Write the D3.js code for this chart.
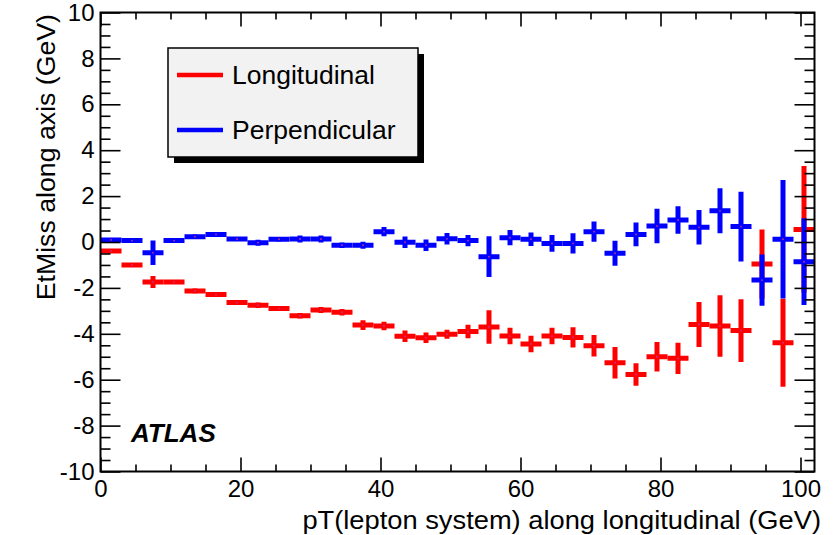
<!DOCTYPE html>
<html>
<head>
<meta charset="utf-8">
<script src="https://cdn.jsdelivr.net/npm/d3@7"></script>
<style>
  html, body { margin: 0; padding: 0; background: #fff; }
  svg { display: block; }
  text { font-family: "Liberation Sans", Arial, Helvetica, sans-serif; }
</style>
</head>
<body>
<svg id="chart" width="836" height="535"></svg>
<script>
// ---- data ----
const binCenters = [1.5, 4.5, 7.5, 10.5, 13.5, 16.5, 19.5, 22.5, 25.5, 28.5, 31.5, 34.5,
  37.5, 40.5, 43.5, 46.5, 49.5, 52.5, 55.5, 58.5, 61.5, 64.5, 67.5, 70.5, 73.5, 76.5,
  79.5, 82.5, 85.5, 88.5, 91.5, 94.5, 97.5, 100.5];
const binHalfWidth = 1.5;

const longitudinal = [-0.39, -1.0, -1.74, -1.74, -2.13, -2.29, -2.64, -2.76, -2.9, -3.21,
  -2.96, -3.06, -3.62, -3.66, -4.11, -4.17, -4.02, -3.9, -3.70, -4.10, -4.44, -4.10, -4.16,
  -4.52, -5.26, -5.77, -5.0, -5.07, -3.59, -3.66, -3.86, -0.96, -4.39, 0.55];
const longitudinalErr = [0.03, 0.03, 0.26, 0.05, 0.1, 0.05, 0.06, 0.12, 0.1, 0.12,
  0.13, 0.14, 0.21, 0.18, 0.25, 0.23, 0.2, 0.29, 0.73, 0.36, 0.36, 0.36, 0.44,
  0.47, 0.69, 0.49, 0.64, 0.68, 0.98, 1.34, 1.37, 1.51, 1.92, 2.76];

const perpendicular = [0.09, 0.06, -0.47, 0.06, 0.23, 0.33, 0.13, -0.03, 0.12, 0.13,
  0.13, -0.14, -0.14, 0.45, -0.01, -0.14, 0.14, 0.06, -0.64, 0.19, 0.12, -0.06, -0.06,
  0.45, -0.49, 0.33, 0.70, 0.96, 0.64, 1.36, 0.67, -1.66, 0.12, -0.86];
const perpendicularErr = [0.03, 0.03, 0.53, 0.05, 0.1, 0.05, 0.05, 0.13, 0.1, 0.15,
  0.15, 0.12, 0.15, 0.2, 0.25, 0.25, 0.25, 0.25, 0.89, 0.33, 0.29, 0.36, 0.44,
  0.44, 0.54, 0.52, 0.75, 0.6, 0.75, 0.98, 1.52, 1.12, 2.58, 1.89];

const xMajorTicks = [0, 20, 40, 60, 80, 100];
const yMajorTicks = [-10, -8, -6, -4, -2, 0, 2, 4, 6, 8, 10];

const seriesNames = ["Longitudinal", "Perpendicular"];
const seriesColors = ["#ff0000", "#0000ff"];

// ---- scales ----
const svg = d3.select("#chart");
const x = d3.scaleLinear().domain([0, 102]).range([100.5, 814.5]);
const y = d3.scaleLinear().domain([-10, 10]).range([471.5, 12.5]);

const xMinorTicks = d3.range(0, 102, 5).filter(v => v % 20 !== 0);
const yMinorTicks = d3.range(-10, 10.01, 0.5).filter(v => Math.abs(v % 2) > 1e-9);
const plainFormat = d => String(d);

// ---- data marks ----
svg.append("defs").append("clipPath").attr("id", "clip")
  .append("rect").attr("x", x(0)).attr("y", y(10))
  .attr("width", x(102) - x(0)).attr("height", y(-10) - y(10));

const plot = svg.append("g").attr("clip-path", "url(#clip)");
const series = [
  { vals: longitudinal, errs: longitudinalErr, color: seriesColors[0] },
  { vals: perpendicular, errs: perpendicularErr, color: seriesColors[1] }
];
series.forEach(s => {
  const g = plot.append("g").attr("stroke", s.color).attr("stroke-width", 5).attr("fill", "none");
  binCenters.forEach((c, i) => {
    g.append("line")
      .attr("x1", x(c - binHalfWidth)).attr("x2", x(c + binHalfWidth))
      .attr("y1", y(s.vals[i])).attr("y2", y(s.vals[i]));
    g.append("line")
      .attr("x1", x(c)).attr("x2", x(c))
      .attr("y1", y(s.vals[i] - s.errs[i])).attr("y2", y(s.vals[i] + s.errs[i]));
  });
  binCenters.forEach((c, i) => {
    plot.append("circle").attr("cx", x(c)).attr("cy", y(s.vals[i])).attr("r", 0.9)
      .attr("fill", "#c0309a");
  });
});

// ---- axes ----
function styleAxis(g) {
  g.select(".domain").remove();
  g.selectAll(".tick line").attr("stroke", "#000").attr("stroke-width", 1.6);
  g.selectAll(".tick text").attr("fill", "#000").style("font-size", "24px")
    .style("font-family", "'Liberation Sans', Arial, sans-serif");
}
const H = y(-10), T = y(10), L = x(0), R = x(102);

svg.append("g").attr("transform", `translate(0,${H})`)
  .call(d3.axisBottom(x).tickValues(xMajorTicks).tickSize(-14).tickPadding(8).tickFormat(plainFormat))
  .call(styleAxis);
svg.append("g").attr("transform", `translate(0,${H})`)
  .call(d3.axisBottom(x).tickValues(xMinorTicks).tickSize(-7).tickFormat(""))
  .call(styleAxis);
svg.append("g").attr("transform", `translate(0,${T})`)
  .call(d3.axisTop(x).tickValues(xMajorTicks).tickSize(-14).tickFormat(""))
  .call(styleAxis);
svg.append("g").attr("transform", `translate(0,${T})`)
  .call(d3.axisTop(x).tickValues(xMinorTicks).tickSize(-7).tickFormat(""))
  .call(styleAxis);

svg.append("g").attr("transform", `translate(${L},0)`)
  .call(d3.axisLeft(y).tickValues(yMajorTicks).tickSize(-20).tickPadding(6).tickFormat(plainFormat))
  .call(styleAxis);
svg.append("g").attr("transform", `translate(${L},0)`)
  .call(d3.axisLeft(y).tickValues(yMinorTicks).tickSize(-10).tickFormat(""))
  .call(styleAxis);
svg.append("g").attr("transform", `translate(${R},0)`)
  .call(d3.axisRight(y).tickValues(yMajorTicks).tickSize(-20).tickFormat(""))
  .call(styleAxis);
svg.append("g").attr("transform", `translate(${R},0)`)
  .call(d3.axisRight(y).tickValues(yMinorTicks).tickSize(-10).tickFormat(""))
  .call(styleAxis);

// frame
svg.append("rect").attr("x", L).attr("y", T).attr("width", R - L).attr("height", H - T)
  .attr("fill", "none").attr("stroke", "#000").attr("stroke-width", 2);

// axis titles
svg.append("text").attr("transform", "translate(821,529) scale(1.05,1)").attr("text-anchor", "end")
  .style("font-size", "26px").text("pT(lepton system) along longitudinal (GeV)");
svg.append("text").attr("transform", "translate(55,14) rotate(-90)").attr("text-anchor", "end")
  .style("font-size", "26.7px").text("EtMiss along axis (GeV)");

// ATLAS label
svg.append("text").attr("x", 131).attr("y", 442)
  .style("font-size", "26px").style("font-weight", "bold").style("font-style", "italic")
  .text("ATLAS");

// ---- legend ----
const leg = svg.append("g");
leg.append("rect").attr("x", 174).attr("y", 54).attr("width", 250).attr("height", 109).attr("fill", "#000");
leg.append("rect").attr("x", 168).attr("y", 48).attr("width", 250).attr("height", 109)
  .attr("fill", "#f2f2f2").attr("stroke", "#000").attr("stroke-width", 1.5);
const legY = [75, 130];
seriesNames.forEach((name, i) => {
  leg.append("line").attr("x1", 177).attr("x2", 223).attr("y1", legY[i]).attr("y2", legY[i])
    .attr("stroke", seriesColors[i]).attr("stroke-width", 4.5);
  leg.append("text").attr("transform", `translate(232,${legY[i] + 8.5}) scale(1.06,1)`)
    .style("font-size", "25px").attr("fill", "#000").text(name);
});
</script>
</body>
</html>
